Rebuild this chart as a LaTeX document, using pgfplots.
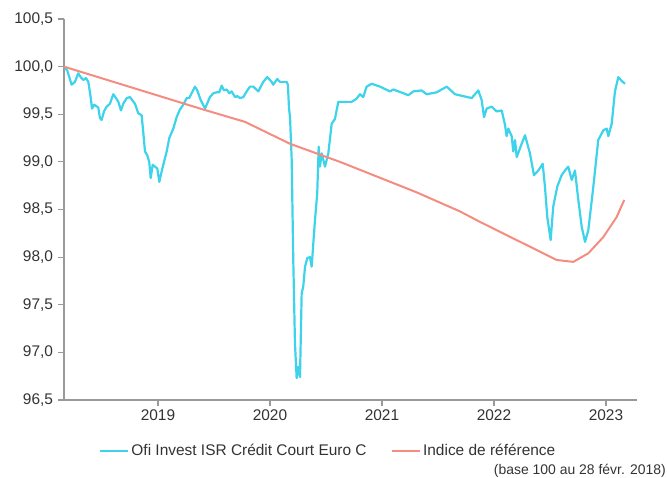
\documentclass[border=0pt]{standalone}
\usepackage{pgfplots}
\pgfplotsset{compat=1.18}
\usepackage{fontspec}
\setmainfont{Liberation Sans}
\definecolor{fundcyan}{HTML}{3DD3EA}
\definecolor{refsalmon}{HTML}{F48C80}
\definecolor{axisgray}{HTML}{999999}
\definecolor{txt}{HTML}{333333}
\begin{document}
\begin{tikzpicture}
\begin{axis}[
  scale only axis,
  width=573bp, height=381bp,
  xmin=2018.161, xmax=2023.277,
  ymin=96.5, ymax=100.5,
  xtick={2019,2020,2021,2022,2023},
  ytick={96.5,97,97.5,98,98.5,99,99.5,100,100.5},
  axis x line=bottom, axis y line=left,
  axis line style={-, draw=axisgray, line width=1.4bp},
  tick style={draw=axisgray, line width=1.2bp},
  tick align=outside, major tick length=6bp,
  /pgf/number format/assume math mode=true,
  xticklabel style={/pgf/number format/1000 sep={}, font=\fontsize{15.5}{17}\selectfont, text=txt},
  yticklabel style={/pgf/number format/.cd, fixed, fixed zerofill, precision=1, use comma,
    /tikz/.cd, font=\fontsize{15.5}{17}\selectfont, text=txt, xshift=-1.5bp},
  legend style={draw=none, fill=none, at={(0.461,-0.134)}, anchor=center,
    font=\fontsize{15.5}{17}\selectfont, text=txt, column sep=0bp,
    nodes={inner xsep=2bp},
    /tikz/every even column/.append style={column sep=22bp}},
  legend columns=2,
  legend image code/.code={\draw[#1, line width=2.5bp] (0bp,0bp) -- (28bp,0bp);},
  clip=false,
]
% Fonds
\addplot[fundcyan, line width=2.2bp, line join=round] coordinates {
(2018.161,100.00)(2018.170,99.99)(2018.190,99.96)(2018.229,99.81)(2018.259,99.84)(2018.288,99.93)
(2018.310,99.89)(2018.333,99.86)(2018.357,99.88)(2018.378,99.84)(2018.399,99.68)(2018.411,99.56)
(2018.431,99.60)(2018.467,99.57)(2018.482,99.46)(2018.497,99.44)(2018.518,99.53)(2018.542,99.58)
(2018.571,99.61)(2018.601,99.71)(2018.625,99.67)(2018.646,99.63)(2018.670,99.54)(2018.690,99.61)
(2018.721,99.67)(2018.750,99.68)(2018.795,99.61)(2018.824,99.51)(2018.854,99.49)(2018.868,99.32)
(2018.884,99.11)(2018.904,99.07)(2018.922,99.00)(2018.935,98.83)(2018.953,98.97)(2018.973,98.95)
(2018.994,98.93)(2019.012,98.79)(2019.033,98.90)(2019.054,99.00)(2019.078,99.11)(2019.101,99.25)
(2019.137,99.35)(2019.167,99.47)(2019.196,99.55)(2019.226,99.60)(2019.256,99.67)(2019.279,99.67)
(2019.330,99.79)(2019.351,99.75)(2019.381,99.65)(2019.420,99.56)(2019.464,99.68)(2019.494,99.72)
(2019.524,99.73)(2019.547,99.73)(2019.569,99.80)(2019.589,99.75)(2019.613,99.76)(2019.637,99.72)
(2019.658,99.74)(2019.688,99.68)(2019.708,99.69)(2019.732,99.67)(2019.762,99.68)(2019.792,99.74)
(2019.821,99.79)(2019.851,99.79)(2019.896,99.74)(2019.940,99.84)(2019.976,99.89)(2020.015,99.84)
(2020.029,99.81)(2020.065,99.87)(2020.089,99.84)(2020.149,99.84)(2020.160,99.81)(2020.170,99.56)
(2020.179,99.47)(2020.194,99.02)(2020.208,97.97)(2020.223,97.10)(2020.238,96.73)
(2020.253,96.85)(2020.268,96.74)(2020.283,97.62)(2020.297,97.69)(2020.313,97.90)(2020.333,97.99)
(2020.357,98.00)(2020.372,97.90)(2020.402,98.39)(2020.422,98.67)(2020.435,99.16)(2020.446,98.95)
(2020.462,99.09)(2020.491,98.95)(2020.521,99.09)(2020.551,99.40)(2020.580,99.45)(2020.610,99.63)
(2020.729,99.63)(2020.770,99.66)(2020.804,99.71)(2020.833,99.68)(2020.863,99.79)(2020.908,99.82)
(2020.982,99.79)(2021.071,99.74)(2021.101,99.76)(2021.170,99.73)(2021.235,99.70)(2021.280,99.74)
(2021.354,99.75)(2021.399,99.71)(2021.488,99.73)(2021.578,99.79)(2021.652,99.71)(2021.726,99.69)
(2021.801,99.67)(2021.860,99.75)(2021.890,99.65)(2021.911,99.47)(2021.935,99.56)(2021.979,99.58)
(2022.024,99.53)(2022.069,99.54)(2022.098,99.39)(2022.113,99.27)(2022.128,99.35)(2022.158,99.27)
(2022.172,99.11)(2022.188,99.23)(2022.203,99.05)(2022.247,99.19)(2022.277,99.28)(2022.321,99.09)
(2022.357,98.86)(2022.396,98.91)(2022.435,98.98)(2022.455,98.74)(2022.476,98.42)(2022.506,98.18)
(2022.529,98.53)(2022.565,98.74)(2022.604,98.86)(2022.634,98.91)(2022.663,98.95)(2022.694,98.81)
(2022.723,98.91)(2022.753,98.60)(2022.783,98.32)(2022.813,98.16)(2022.842,98.28)(2022.887,98.74)
(2022.931,99.23)(2022.976,99.33)(2023.006,99.35)(2023.021,99.27)(2023.051,99.40)(2023.080,99.74)
(2023.110,99.89)(2023.140,99.85)(2023.170,99.82)
};
\addlegendentry{Ofi Invest ISR Crédit Court Euro C}
% Indice de reference
\addplot[refsalmon, line width=2bp, line join=round] coordinates {
(2018.161,100.00)(2019.375,99.56)(2019.777,99.42)(2020.179,99.19)(2020.625,99.00)
(2021.310,98.68)(2021.696,98.48)(2021.875,98.37)(2022.560,97.97)(2022.708,97.95)
(2022.842,98.04)(2022.976,98.21)(2023.095,98.42)(2023.163,98.60)
};
\addlegendentry{Indice de référence}
\end{axis}
\node[anchor=east, text=txt, font=\fontsize{14}{16}\selectfont, inner sep=0pt] at (602bp,-71bp) {(base 100 au 28 févr. 2018)};
\pgfresetboundingbox
\path (-64bp,-78bp) rectangle (603bp,400bp);
\end{tikzpicture}
\end{document}
